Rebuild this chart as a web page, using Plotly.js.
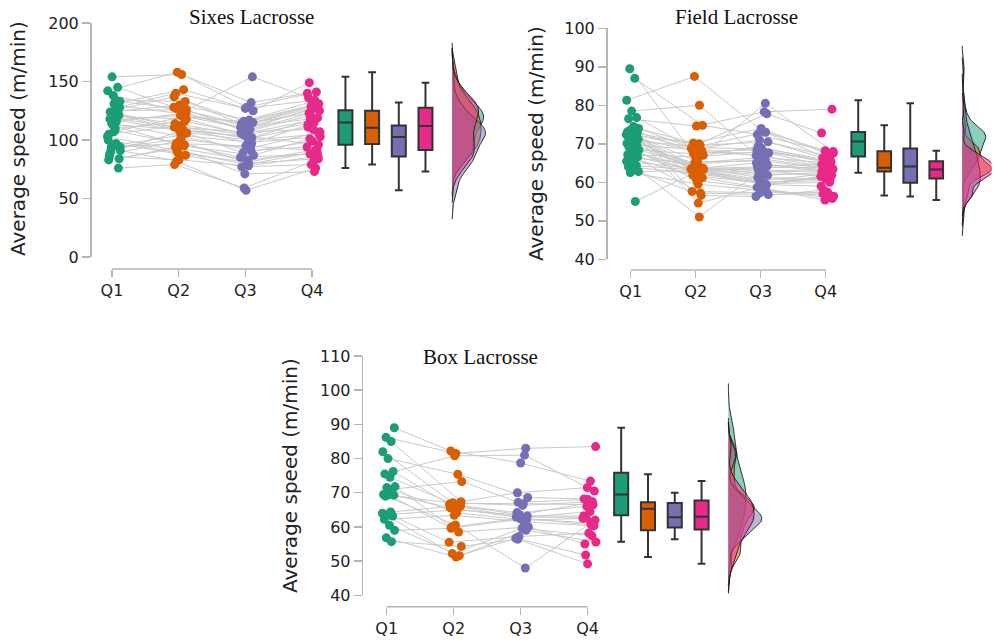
<!DOCTYPE html>
<html><head><meta charset="utf-8">
<script src="https://cdn.plot.ly/plotly-3.0.1.min.js"></script>
<style>html,body{margin:0;padding:0;background:#fff}#chart{width:994px;height:641px}</style>
</head><body><div id="chart"></div>
<script>
// ---------- data ----------
const quarters = ['Q1', 'Q2', 'Q3', 'Q4'];
const panelTitles = ['Sixes Lacrosse', 'Field Lacrosse', 'Box Lacrosse'];
const yTitle = 'Average speed (m/min)';

// Sixes Lacrosse (one entry per player, paired across quarters)
const sixesQ1 = [120, 95, 133, 108, 88, 126, 113, 142, 97, 117, 84, 131, 105, 122, 154, 91, 110, 124, 76, 138, 100, 116, 93, 128, 112, 86, 145, 119, 103, 134, 90, 121, 107, 83, 125, 114, 94, 130, 118, 123];
const sixesQ2 = [118, 104, 127, 96, 99, 137, 109, 158, 87, 121, 94, 143, 112, 106, 156, 82, 116, 130, 79, 124, 89, 123, 101, 140, 95, 83, 128, 110, 91, 133, 107, 114, 120, 93, 126, 103, 97, 122, 108, 111];
const sixesQ3 = [105, 98, 113, 85, 80, 116, 102, 128, 77, 109, 71, 125, 101, 89, 132, 57, 106, 117, 59, 154, 81, 110, 93, 127, 87, 78, 112, 97, 79, 114, 100, 104, 115, 83, 108, 91, 95, 111, 103, 107];
const sixesQ4 = [117, 103, 130, 88, 84, 133, 111, 141, 79, 125, 73, 149, 119, 99, 140, 76, 121, 131, 82, 136, 92, 126, 107, 134, 101, 86, 128, 113, 90, 129, 105, 115, 123, 89, 127, 94, 91, 118, 96, 109];

// Field Lacrosse
const fieldQ1 = [55, 62.5, 62.8, 63.2, 64, 64.3, 64.8, 65.5, 66, 66.4, 66.6, 66.8, 67.2, 67.6, 68, 68.4, 68.8, 69.2, 69.6, 70, 70.1, 70.4, 70.8, 71.2, 71.5, 71.8, 72, 72.2, 72.4, 72.6, 72.8, 72.9, 73, 73.1, 73.3, 73.6, 74, 74.5, 76.5, 76.8, 78.5, 81.3, 87, 89.5];
const fieldQ2 = [63.6, 59.5, 63.0, 56.6, 62.3, 63.3, 51, 63.5, 61.2, 64.8, 63.1, 57.2, 66.6, 63.4, 62.7, 67.4, 63.7, 60.5, 68.6, 63.2, 65.0, 63.6, 69.3, 61.8, 67.8, 63.8, 63.5, 70, 62.9, 68.1, 65.4, 57.6, 69.6, 64.2, 67, 54.6, 70.2, 68, 74.6, 69, 80, 87.5, 74.8, 66];
const fieldQ3 = [61.3, 57.8, 63.8, 56.3, 59.7, 62.6, 64.2, 60.0, 58.7, 66.0, 60.3, 56.8, 68.0, 63.4, 59.4, 68.9, 65.0, 58.3, 71.0, 61.8, 66.5, 64.0, 73.0, 59.8, 67.6, 63.0, 60.8, 77.8, 59.6, 68.4, 65.5, 57.3, 70.5, 62.2, 69.3, 59.1, 74.0, 67.0, 78.3, 68.7, 64.6, 73.3, 72.4, 80.5];
const fieldQ4 = [60.9, 56.4, 63.9, 58.0, 61.8, 63.0, 64.7, 60.5, 55.4, 63.4, 62.3, 57.0, 65.3, 61.3, 59.0, 65.7, 63.2, 55.8, 66.8, 62.6, 64.9, 63.7, 67.6, 61.1, 64.4, 63.3, 60.8, 72.8, 60.0, 65.5, 63.5, 57.4, 66.4, 62.0, 65.4, 61.5, 67.2, 64.1, 79.0, 65.1, 62.8, 66.0, 68.2, 68.0];

// Box Lacrosse
const boxQ1 = [55.7, 56.8, 59, 60.5, 62.2, 63.2, 63.6, 64, 64.4, 69, 69.3, 69.4, 69.5, 71, 71.5, 71.8, 74.5, 75.5, 76.2, 80, 82, 85, 86.2, 89];
const boxQ2 = [54.3, 51.2, 59.6, 51.6, 63.4, 55.5, 65.0, 52.2, 66.2, 60.6, 65.6, 58.5, 66.9, 73.3, 64.1, 60.0, 65.9, 80.8, 66.6, 75.4, 67.1, 67.4, 81.5, 82.2];
const boxQ3 = [56.4, 59, 62.3, 56.7, 61.5, 57.2, 63.2, 59.6, 64.2, 48, 62.7, 60.0, 66.8, 67.2, 62, 62.6, 62.9, 81, 63.6, 68.6, 66.3, 70, 83, 78.7];
const boxQ4 = [49.2, 55.6, 61.2, 51.8, 60.3, 58.2, 63.2, 57.4, 66, 62, 64.5, 55, 66.5, 68.0, 62.5, 60.6, 62.8, 70.5, 67, 68.2, 67.4, 71.5, 83.5, 73.4];

// ---------- styles ----------
const colors = ['#1B9E77', '#D95F02', '#7570B3', '#E7298A'];
const fillRGB = ['27,158,119', '217,95,2', '117,112,179', '231,41,138'];
const axisGray = '#b5b5b5';
const W = 994, H = 641;
const px = v => v / W, py = v => 1 - v / H;

const panels = [
  { data: [sixesQ1, sixesQ2, sixesQ3, sixesQ4], yr: [0, 200], dt: 50,
    xdom: [92, 495.5], ydom: [257, 23], yline: 90, xline: 269,
    title: [251, 17], ytitle: [18, 139], xr: [0.7, 6.75] },
  { data: [fieldQ1, fieldQ2, fieldQ3, fieldQ4], yr: [40, 100], dt: 10,
    xdom: [611.2, 991.5], ydom: [259.3, 28.3], yline: 606, xline: 270,
    title: [736, 17], ytitle: [536, 144], xr: [0.7, 6.55] },
  { data: [boxQ1, boxQ2, boxQ3, boxQ4], yr: [40, 110], dt: 10,
    xdom: [366.6, 771.9], ydom: [595.3, 356], yline: 361.7, xline: 606.7,
    title: [480, 357], ytitle: [290, 476], xr: [0.7, 6.75] }
];

function jit(i, q) {
  const f = ((i + 1) * 0.6180339887 + q * 0.2137 + 0.11) % 1;
  return 0.025 + (f - 0.5) * 0.2;
}
function stats(a) {
  const n = a.length, m = a.reduce((s, v) => s + v, 0) / n;
  const sd = Math.sqrt(a.reduce((s, v) => s + (v - m) * (v - m), 0) / (n - 1));
  const s = a.slice().sort((x, y) => x - y);
  const qf = p => { const h = (n - 1) * p, lo = Math.floor(h); return s[lo] + (h - lo) * ((s[Math.min(lo + 1, n - 1)]) - s[lo]); };
  return { n, sd, iqr: qf(0.75) - qf(0.25), min: s[0], max: s[n - 1] };
}
function kde(a) {
  const st = stats(a);
  const bw = 0.9 * Math.min(st.sd, st.iqr / 1.34) * Math.pow(st.n, -0.2);
  const lo = st.min - 3 * bw, hi = st.max + 3 * bw, N = 160;
  const ys = [], ds = [];
  for (let k = 0; k <= N; k++) {
    const y = lo + (hi - lo) * k / N;
    let d = 0;
    for (const v of a) { const z = (y - v) / bw; d += Math.exp(-0.5 * z * z); }
    ys.push(y); ds.push(d / (st.n * bw * Math.sqrt(2 * Math.PI)));
  }
  return { ys, ds };
}

const traces = [], shapes = [], annotations = [];
const layout = {
  width: W, height: H, margin: { l: 0, r: 0, t: 0, b: 0 },
  paper_bgcolor: '#fff', plot_bgcolor: 'rgba(0,0,0,0)',
  showlegend: false, boxmode: 'overlay',
  font: { family: 'DejaVu Sans', color: '#222' }
};

panels.forEach((P, pi) => {
  const sfx = pi === 0 ? '' : String(pi + 1);
  const xa = 'x' + sfx, ya = 'y' + sfx;
  layout['xaxis' + sfx] = {
    domain: [px(P.xdom[0]), px(P.xdom[1])], range: P.xr, type: 'linear',
    anchor: 'free', position: py(P.xline),
    tickvals: [1, 2, 3, 4], ticktext: quarters,
    showline: false, showgrid: false, zeroline: false,
    ticks: 'outside', ticklen: 7, tickwidth: 1.5, tickcolor: axisGray,
    tickfont: { size: 16, color: '#222', family: 'DejaVu Sans' }, fixedrange: true
  };
  layout['yaxis' + sfx] = {
    domain: [py(P.ydom[0]), py(P.ydom[1])], range: P.yr, type: 'linear',
    anchor: 'free', position: px(P.yline), dtick: P.dt, tick0: 0,
    showline: true, linecolor: axisGray, linewidth: 1.5,
    showgrid: false, zeroline: false,
    ticks: 'outside', ticklen: 8, tickwidth: 1.5, tickcolor: axisGray,
    tickfont: { size: 16, color: '#222', family: 'DejaVu Sans' }, fixedrange: true
  };
  shapes.push({ type: 'line', xref: xa, yref: 'paper', x0: 1, x1: 4,
    y0: py(P.xline), y1: py(P.xline), line: { color: axisGray, width: 1.5 } });

  // paired lines
  const n = P.data[0].length, lx = [], ly = [];
  for (let i = 0; i < n; i++) {
    for (let q = 0; q < 4; q++) { lx.push(q + 1 + jit(i, q)); ly.push(P.data[q][i]); }
    lx.push(null); ly.push(null);
  }
  traces.push({ type: 'scatter', mode: 'lines', x: lx, y: ly, xaxis: xa, yaxis: ya,
    line: { color: '#c9c9c9', width: 1 }, hoverinfo: 'skip', connectgaps: false });

  // points
  P.data.forEach((arr, q) => {
    traces.push({ type: 'scatter', mode: 'markers', xaxis: xa, yaxis: ya,
      x: arr.map((v, i) => q + 1 + jit(i, q)), y: arr, cliponaxis: false,
      marker: { color: colors[q], size: 9, line: { width: 0 } } });
  });

  // boxes
  P.data.forEach((arr, q) => {
    traces.push({ type: 'box', xaxis: xa, yaxis: ya, x: arr.map(() => 4.5 + 0.4 * q), y: arr,
      width: 0.21, whiskerwidth: 0.55, fillcolor: colors[q],
      line: { color: '#333', width: 2 }, boxpoints: 'outliers',
      marker: { opacity: 0, size: 1 }, hoverinfo: 'skip' });
  });

  // densities (half violins)
  const ks = P.data.map(kde);
  const maxD = Math.max(...ks.map(k => Math.max(...k.ds)));
  const scale = 0.5 / maxD, base = 6.1;
  ks.forEach((k, q) => {
    const x = [base].concat(k.ds.map(d => base + d * scale), [base]);
    const y = [k.ys[0]].concat(k.ys, [k.ys[k.ys.length - 1]]);
    traces.push({ type: 'scatter', mode: 'lines', xaxis: xa, yaxis: ya, x, y,
      fill: 'toself', fillcolor: 'rgba(' + fillRGB[q] + ',0.5)',
      line: { color: 'rgba(20,20,20,0.85)', width: 1 }, hoverinfo: 'skip' });
  });

  annotations.push({ xref: 'paper', yref: 'paper', x: px(P.title[0]), y: py(P.title[1]),
    xanchor: 'center', yanchor: 'middle', showarrow: false, text: panelTitles[pi],
    font: { family: 'Liberation Serif', size: 21, color: '#111' } });
  annotations.push({ xref: 'paper', yref: 'paper', x: px(P.ytitle[0]), y: py(P.ytitle[1]),
    xanchor: 'center', yanchor: 'middle', showarrow: false, text: yTitle, textangle: -90,
    font: { family: 'DejaVu Sans', size: 20, color: '#222' } });
});

layout.shapes = shapes;
layout.annotations = annotations;
Plotly.newPlot('chart', traces, layout, { staticPlot: true, displayModeBar: false });
</script></body></html>
